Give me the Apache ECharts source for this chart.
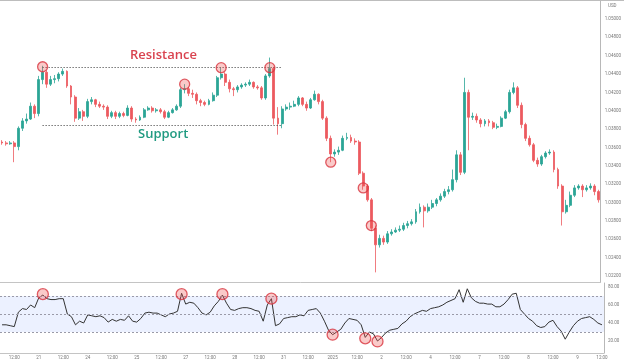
<!DOCTYPE html>
<html><head><meta charset="utf-8">
<script src="https://cdn.jsdelivr.net/npm/echarts@6/dist/echarts.min.js"></script>
<style>html,body{margin:0;padding:0;background:#fff}#c{width:624px;height:362px}</style>
</head><body><div id="c"></div>
<script>
// ---- tick labels / categories ----
const days = ['20','21','24','25','27','28','31','2025','2','4','7','8','9'];
const hours = ['00:00','02:00','04:00','06:00','08:00','10:00','12:00','14:00','16:00','18:00','20:00','22:00'];
const priceTicks = [1.022,1.024,1.026,1.028,1.030,1.032,1.034,1.036,1.038,1.040,1.042,1.044,1.046,1.048,1.050];
const rsiTicks = [20,40,60,80];

// ---- OHLC (2h candles) ----
const opens = [
1.0366,1.0365,1.0364,1.0365,1.0361,1.0381,1.0389,1.0391,1.0405,1.0397,
1.0434,1.0442,1.0429,1.0434,1.0435,1.0440,1.0443,1.0427,1.0415,1.0392,
1.0399,1.0394,1.0410,1.0412,1.0407,1.0405,1.0404,1.0394,1.0398,1.0394,
1.0397,1.0395,1.0403,1.0391,1.0390,1.0393,1.0401,1.0403,1.0400,1.0401,
1.0399,1.0393,1.0398,1.0401,1.0405,1.0423,1.0424,1.0419,1.0418,1.0411,
1.0409,1.0407,1.0411,1.0417,1.0436,1.0440,1.0431,1.0424,1.0423,1.0426,
1.0428,1.0429,1.0431,1.0426,1.0425,1.0414,1.0438,1.0446,1.0392,1.0386,
1.0402,1.0404,1.0405,1.0407,1.0414,1.0407,1.0403,1.0412,1.0418,1.0410,
1.0392,1.0370,1.0353,1.0355,1.0357,1.0370,1.0371,1.0367,1.0366,1.0332,
1.0318,1.0303,1.0272,1.0254,1.0261,1.0257,1.0266,1.0268,1.0270,1.0271,
1.0275,1.0277,1.0279,1.0290,1.0295,1.0291,1.0295,1.0299,1.0303,1.0307,
1.0312,1.0314,1.0325,1.0352,1.0333,1.0420,1.0393,1.0394,1.0390,1.0386,
1.0389,1.0387,1.0382,1.0383,1.0392,1.0399,1.0420,1.0425,1.0406,1.0385,
1.0370,1.0363,1.0346,1.0342,1.0350,1.0354,1.0355,1.0336,1.0318,1.0290,
1.0297,1.0308,1.0316,1.0318,1.0314,1.0316,1.0318,1.0312];
const closes = [
1.0365,1.0364,1.0365,1.0361,1.0381,1.0389,1.0391,1.0405,1.0397,1.0434,
1.0442,1.0429,1.0434,1.0435,1.0440,1.0443,1.0427,1.0415,1.0392,1.0399,
1.0394,1.0410,1.0412,1.0407,1.0405,1.0404,1.0394,1.0398,1.0394,1.0397,
1.0395,1.0403,1.0391,1.0390,1.0393,1.0401,1.0403,1.0400,1.0401,1.0399,
1.0393,1.0398,1.0401,1.0405,1.0423,1.0424,1.0419,1.0418,1.0411,1.0409,
1.0407,1.0411,1.0417,1.0436,1.0440,1.0431,1.0424,1.0423,1.0426,1.0428,
1.0429,1.0431,1.0426,1.0425,1.0414,1.0438,1.0446,1.0392,1.0386,1.0402,
1.0404,1.0405,1.0407,1.0414,1.0407,1.0403,1.0412,1.0418,1.0410,1.0392,
1.0370,1.0353,1.0355,1.0357,1.0370,1.0371,1.0367,1.0366,1.0332,1.0318,
1.0303,1.0272,1.0254,1.0261,1.0257,1.0266,1.0268,1.0270,1.0271,1.0275,
1.0277,1.0279,1.0290,1.0295,1.0291,1.0295,1.0299,1.0303,1.0307,1.0312,
1.0314,1.0325,1.0352,1.0333,1.0420,1.0393,1.0394,1.0390,1.0386,1.0389,
1.0387,1.0382,1.0383,1.0392,1.0399,1.0420,1.0425,1.0406,1.0385,1.0370,
1.0363,1.0346,1.0342,1.0350,1.0354,1.0355,1.0336,1.0318,1.0290,1.0297,
1.0308,1.0316,1.0318,1.0314,1.0316,1.0318,1.0312,1.0303];
const lows = [
1.0363,1.0362,1.0363,1.0344,1.0357,1.0378,1.0386,1.0390,1.0392,1.0394,
1.0429,1.0425,1.0427,1.0430,1.0432,1.0438,1.0425,1.0407,1.0388,1.0390,
1.0389,1.0392,1.0407,1.0404,1.0403,1.0401,1.0391,1.0392,1.0391,1.0392,
1.0393,1.0394,1.0388,1.0387,1.0389,1.0392,1.0400,1.0398,1.0398,1.0397,
1.0391,1.0392,1.0397,1.0400,1.0403,1.0419,1.0416,1.0414,1.0407,1.0405,
1.0405,1.0406,1.0410,1.0415,1.0434,1.0427,1.0420,1.0416,1.0420,1.0424,
1.0426,1.0427,1.0424,1.0423,1.0412,1.0412,1.0436,1.0385,1.0374,1.0381,
1.0400,1.0401,1.0404,1.0405,1.0405,1.0400,1.0402,1.0411,1.0407,1.0390,
1.0367,1.0344,1.0350,1.0352,1.0356,1.0368,1.0365,1.0363,1.0330,1.0314,
1.0301,1.0269,1.0224,1.0251,1.0254,1.0255,1.0264,1.0267,1.0268,1.0269,
1.0272,1.0275,1.0277,1.0288,1.0273,1.0289,1.0293,1.0296,1.0301,1.0305,
1.0309,1.0312,1.0322,1.0330,1.0331,1.0357,1.0390,1.0387,1.0382,1.0383,
1.0383,1.0380,1.0380,1.0382,1.0391,1.0397,1.0418,1.0403,1.0381,1.0367,
1.0361,1.0344,1.0339,1.0340,1.0348,1.0352,1.0333,1.0315,1.0275,1.0288,
1.0295,1.0306,1.0314,1.0306,1.0312,1.0314,1.0308,1.0300];
const highs = [
1.0368,1.0367,1.0367,1.0367,1.0383,1.0392,1.0397,1.0409,1.0407,1.0438,
1.0449,1.0444,1.0438,1.0439,1.0442,1.0446,1.0444,1.0428,1.0417,1.0403,
1.0401,1.0413,1.0415,1.0413,1.0410,1.0407,1.0406,1.0400,1.0400,1.0399,
1.0399,1.0406,1.0405,1.0393,1.0395,1.0403,1.0405,1.0405,1.0403,1.0403,
1.0401,1.0400,1.0403,1.0407,1.0425,1.0429,1.0426,1.0423,1.0420,1.0413,
1.0411,1.0413,1.0420,1.0438,1.0447,1.0442,1.0434,1.0426,1.0428,1.0430,
1.0431,1.0434,1.0432,1.0428,1.0427,1.0440,1.0458,1.0448,1.0404,1.0405,
1.0407,1.0409,1.0411,1.0416,1.0415,1.0410,1.0414,1.0422,1.0419,1.0412,
1.0394,1.0373,1.0358,1.0361,1.0373,1.0376,1.0374,1.0370,1.0368,1.0334,
1.0320,1.0305,1.0275,1.0265,1.0264,1.0269,1.0271,1.0273,1.0275,1.0278,
1.0280,1.0282,1.0293,1.0299,1.0297,1.0299,1.0303,1.0305,1.0310,1.0315,
1.0318,1.0336,1.0357,1.0355,1.0436,1.0423,1.0398,1.0397,1.0392,1.0391,
1.0391,1.0389,1.0386,1.0394,1.0401,1.0423,1.0431,1.0427,1.0409,1.0387,
1.0373,1.0365,1.0349,1.0352,1.0356,1.0358,1.0357,1.0338,1.0320,1.0303,
1.0312,1.0319,1.0320,1.0320,1.0319,1.0321,1.0320,1.0314];

// ---- RSI ----
const rsi = [
38,38,37,36,52,56,55,60,57,68,
71,67,66,66,67,67,50,47,38,42,
40,49,48,47,48,46,41,44,42,44,
43,48,42,41,45,51,52,51,51,49,
47,50,51,53,73,61,63,62,57,51,
49,52,59,64,71,62,55,54,56,57,
57,56,54,53,42,60,67,37,39,45,
46,47,47,49,48,54,55,56,51,42,
32,27,30,33,40,45,44,43,38,24,
30,28,20,24,29,32,33,34,39,42,
47,50,52,54,53,56,57,58,60,63,
65,67,77,63,78,68,64,62,62,61,
61,58,58,61,66,72,73,55,50,45,
42,37,35,36,41,43,36,31,22,30,
37,42,45,46,47,44,40,38];
const rsiLevels = [30, 50, 70];

// ---- annotations ----
const resistance = 1.04474;
const support = 1.03838;
const levelRange = [10, 69];
const priceMarkIdx = [10, 45, 54, 66, 81, 89, 91];
const priceMarkVal = [1.0448, 1.0429, 1.0447, 1.0447, 1.0344, 1.0316, 1.0275];
const rsiMarkIdx = [10, 44, 54, 66, 81, 89, 92];
const rsiMarkVal = [72, 72, 72, 67, 27, 23, 19.5];

// ---- build ----
const allCats = [];
days.forEach(d => hours.forEach(h => allCats.push(d + ' ' + h)));
const cats = allCats.slice(3, 3 + opens.length);
const ohlc = opens.map((o, i) => [o, closes[i], lows[i], highs[i]]);

const chart = echarts.init(document.getElementById('c'), null, {renderer: 'canvas'});
const gray = '#777';
const markStyle = {color: 'rgba(239,83,80,0.38)', borderColor: '#d8343f', borderWidth: 1.3};

chart.setOption({
  animation: false,
  backgroundColor: '#fff',
  grid: [
    {left: 0, right: 20, top: 1, height: 281},
    {left: 0, right: 20, top: 283, height: 70}
  ],
  xAxis: [
    {gridIndex: 0, type: 'category', data: cats, boundaryGap: true,
     axisLine: {show: true, lineStyle: {color: '#c4c4c4'}}, axisTick: {show: false}, axisLabel: {show: false}, splitLine: {show: false}},
    {gridIndex: 1, type: 'category', data: cats, boundaryGap: true,
     axisLine: {show: true, lineStyle: {color: '#c4c4c4'}}, axisTick: {show: false}, splitLine: {show: false},
     axisLabel: {show: true, fontSize: 4.5, color: gray, margin: 2, fontFamily: 'Roboto',
       interval: (i, v) => v.endsWith(' 00:00') || v.endsWith(' 12:00'),
       formatter: v => { const p = v.split(' '); return p[1] === '00:00' ? p[0] : (p[1] === '12:00' ? '12:00' : ''); }}}
  ],
  yAxis: [
    {gridIndex: 0, type: 'value', position: 'right', min: 1.02135, max: 1.05196, scale: true,
     axisLine: {show: true, lineStyle: {color: '#b8b8b8'}}, axisTick: {show: false}, splitLine: {show: false},
     axisLabel: {customValues: priceTicks, fontSize: 4.5, color: gray, margin: 4, fontFamily: 'Roboto', formatter: v => v.toFixed(5)}},
    {gridIndex: 1, type: 'value', position: 'right', min: 6.7, max: 84.4,
     axisLine: {show: true, lineStyle: {color: '#b8b8b8'}}, axisTick: {show: false}, splitLine: {show: false},
     axisLabel: {customValues: rsiTicks, fontSize: 4.5, color: gray, margin: 4, fontFamily: 'Roboto', formatter: v => v.toFixed(2)}}
  ],
  series: [
    {type: 'candlestick', xAxisIndex: 0, yAxisIndex: 0, data: ohlc, barWidth: 2.4,
     itemStyle: {color: '#2ba596', color0: '#ec5a5f', borderColor: '#2ba596', borderColor0: '#ec5a5f', borderWidth: 0.8},
     markLine: {silent: true, symbol: ['none', 'none'], label: {show: false},
       lineStyle: {type: [1, 2], color: '#333', width: 1},
       data: [
         [{coord: [levelRange[0], resistance]}, {coord: [levelRange[1], resistance]}],
         [{coord: [levelRange[0], support]}, {coord: [levelRange[1], support]}]
       ]}},
    {type: 'scatter', xAxisIndex: 0, yAxisIndex: 0, symbolSize: 10, z: 5,
     data: priceMarkIdx.map((x, i) => [x, priceMarkVal[i]]), itemStyle: markStyle},
    {type: 'line', xAxisIndex: 1, yAxisIndex: 1, data: rsi, showSymbol: false, smooth: false,
     lineStyle: {color: '#333', width: 1},
     markArea: {silent: true, itemStyle: {color: 'rgba(41,98,255,0.09)'},
       data: [[{yAxis: rsiLevels[0]}, {yAxis: rsiLevels[2]}]]},
     markLine: {silent: true, symbol: ['none', 'none'], label: {show: false},
       lineStyle: {type: [2, 2], color: '#9a9aa8', width: 1},
       data: rsiLevels.map(v => ({yAxis: v}))}},
    {type: 'scatter', xAxisIndex: 1, yAxisIndex: 1, symbolSize: 11, z: 5,
     data: rsiMarkIdx.map((x, i) => [x, rsiMarkVal[i]]), itemStyle: markStyle}
  ],
  graphic: [
    {type: 'line', shape: {x1: 0, y1: 0.5, x2: 624, y2: 0.5}, style: {stroke: '#bdbdbd', lineWidth: 1}},
    {type: 'text', left: 130, top: 49, style: {text: 'Resistance', fill: '#d9434f', font: '600 13px "Open Sans"'}},
    {type: 'text', left: 138, top: 128, style: {text: 'Support', fill: '#1f9a80', font: '600 13px "Open Sans"'}},
    {type: 'text', left: 608, top: 3, style: {text: 'USD', fill: gray, font: '4.5px Roboto'}}
  ]
});
</script></body></html>
